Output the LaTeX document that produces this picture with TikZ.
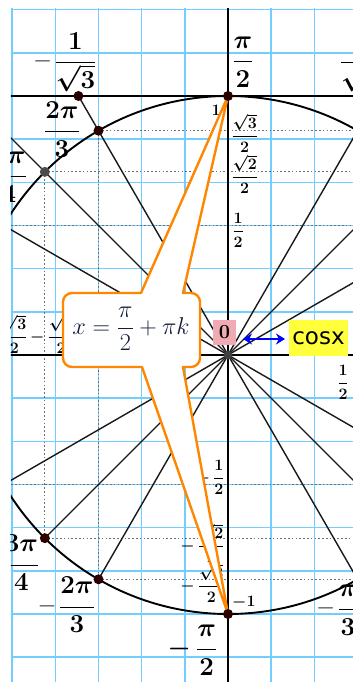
\documentclass[tikz,border=0pt]{standalone}
\usepackage{fontspec}
\newfontfamily\dejavu{DejaVu Sans}
\usetikzlibrary{arrows.meta}
\definecolor{gridblue}{RGB}{115,205,255}
\definecolor{dotred}{RGB}{45,0,0}
\definecolor{callorange}{RGB}{255,135,0}
\definecolor{pinkbg}{RGB}{240,170,180}
\definecolor{yellowbg}{RGB}{255,255,60}
\definecolor{navytext}{RGB}{20,28,60}
\definecolor{dotgray}{RGB}{110,110,110}
\newcommand\fr[2]{{\displaystyle\frac{#1}{#2}}}
\tikzset{
  gridline/.style={gridblue, line width=1.5pt},
  dottedline/.style={dotgray, line width=1.2pt, dash pattern=on 1.6pt off 2.2pt},
  axisline/.style={black, line width=1.5pt},
  fanline/.style={black!90, line width=1.4pt},
  circleline/.style={black, line width=1.9pt},
  ptdot/.style={circle, fill=dotred, inner sep=0pt, minimum size=10pt},
  graydot/.style={circle, fill=black!70, inner sep=0pt, minimum size=10pt},
  biglabel/.style={inner sep=0pt, scale=1.25, font=\fontsize{20.74}{25}\selectfont\bfseries\boldmath},
  smalllabel/.style={inner sep=0pt, scale=1.11, font=\fontsize{14.4}{17}\selectfont\bfseries\boldmath},
  callout/.style={draw=callorange, fill=white, line width=2.4pt, line join=round},
}
\begin{document}
\begin{tikzpicture}[x=1pt,y=1pt]
\useasboundingbox (-228,-327) rectangle (125,355);
\begin{scope}
\clip (-217,-327) rectangle (125,346);
% grid
\foreach \k in {-5,...,2} \draw[gridline] ({\k*43.1667},-330) -- ({\k*43.1667},350);
\foreach \k in {-7,...,8} \draw[gridline] (-220,{\k*43.1667}) -- (130,{\k*43.1667});
% coordinates
\coordinate (O) at (0,0);
\coordinate (A90) at (90:259);
\coordinate (A270) at (270:259);
\coordinate (C120) at (-149.53,259);
\coordinate (C135) at (-259,259);
\coordinate (C150) at (-448.6,259);
\coordinate (C60) at (149.53,259);
\coordinate (C45) at (259,259);
\coordinate (C30) at (448.6,259);
% dotted projections
\foreach \a in {60,45,30} {
  \draw[dottedline] ({-259*cos(\a)},{259*sin(\a)}) -- ({259*cos(\a)},{259*sin(\a)});
  \draw[dottedline] ({-259*cos(\a)},{-259*sin(\a)}) -- ({259*cos(\a)},{-259*sin(\a)});
  \draw[dottedline] ({-259*cos(\a)},{259*sin(\a)}) -- ({-259*cos(\a)},{-259*sin(\a)});
  \draw[dottedline] ({259*cos(\a)},{259*sin(\a)}) -- ({259*cos(\a)},{-259*sin(\a)});
}
% axes and cot line
\draw[axisline] (-230,0) -- (130,0);
\draw[axisline] (0,-330) -- (0,350);
\draw[axisline] (-230,259) -- (130,259);
% fan lines
\draw[fanline] (C120) -- (300:259);
\draw[fanline] (C135) -- (315:259);
\draw[fanline] (C150) -- (330:259);
\draw[fanline] (C60) -- (240:259);
\draw[fanline] (C45) -- (225:259);
\draw[fanline] (C30) -- (210:259);
% circle
\draw[circleline] (O) circle[radius=259pt];
% big labels
\node[biglabel] (lpi2) at (15,293) {$\fr{\pi}{2}$};
\node[biglabel] (lm1s3) at (-162,293) {–\,$\fr{1}{\sqrt{3}}$};
\node[biglabel, anchor=west] (l1s3) at (111,293) {$\fr{1}{\sqrt{3}}$};
\node[biglabel] (l2pi3) at (-166,225) {$\fr{2\pi}{3}$};
\node[biglabel] (l3pi4) at (-219,180) {$\fr{3\pi}{4}$};
\node[biglabel] (lm2pi3) at (-160.5,-250) {–\,$\fr{2\pi}{3}$};
\node[biglabel] (lm3pi4) at (-216,-208) {–\,$\fr{3\pi}{4}$};
\node[biglabel] (lmpi2) at (-35.5,-295) {$-\,\fr{\pi}{2}$};
\node[biglabel, anchor=west] (lmpi3) at (90,-255) {–\,$\fr{\pi}{3}$};
% small labels
\node[smalllabel] (lone) at (-12,245) {1};
\node[smalllabel, anchor=west] (ls32) at (3,222) {$\fr{\sqrt{3}}{2}$};
\node[smalllabel, anchor=west] (ls22) at (3,181) {$\fr{\sqrt{2}}{2}$};
\node[smalllabel, anchor=west] (lh) at (4,125) {$\fr{1}{2}$};
\node[smalllabel, anchor=east] (lmh) at (-3,-122) {$-\,\fr{1}{2}$};
\node[smalllabel, anchor=east] (lms22) at (-3,-188) {$-\,\fr{\sqrt{2}}{2}$};
\node[smalllabel, anchor=east] (lms32) at (-3,-228) {$-\,\fr{\sqrt{3}}{2}$};
\node[smalllabel, anchor=west] (lmone) at (4,-247) {$-1$};
\node[smalllabel] (lhx) at (115,-27) {$\fr{1}{2}$};
\node[smalllabel, anchor=south east] (lxs32) at (-200,1) {$-\,\fr{\sqrt{3}}{2}$};
\node[smalllabel, anchor=south west] (lxs22) at (-198,1) {$-\,\fr{\sqrt{2}}{2}$};
% callout
\draw[callout] (-87,62) -- (A90) -- (-45,62) -- (-37,62)
  arc[start angle=90, end angle=0, radius=9pt] -- (-28,-3)
  arc[start angle=0, end angle=-90, radius=9pt] -- (-45,-12) -- (A270) -- (-86,-12) -- (-156,-12)
  arc[start angle=-90, end angle=-180, radius=9pt] -- (-165,53)
  arc[start angle=180, end angle=90, radius=9pt] -- cycle;
\node[text=navytext, scale=1.17, font=\fontsize{20.74}{25}\selectfont, inner sep=0pt] (formula) at (-97,26) {$x=\fr{\pi}{2}+\pi k$};
% dots
\node[ptdot] (d90) at (A90) {};
\node[ptdot] (d270) at (A270) {};
\node[ptdot] (dc120) at (C120) {};
\node[ptdot] (d120) at (120:259) {};
\node[graydot] (d135) at (135:259) {};
\node[ptdot] (d225) at (225:259) {};
\node[ptdot] (d240) at (240:259) {};
\node[circle, fill=black!75, inner sep=0pt, minimum size=9pt] (dO) at (O) {};
% zero and cosx
\node[fill=pinkbg, minimum width=23pt, minimum height=25pt, inner sep=0pt, font=\fontsize{20}{22}\selectfont\bfseries] (zero) at (-3.5,22.5) {0};
\node[fill=yellowbg, minimum width=59pt, minimum height=36pt, inner sep=0pt, font=\dejavu\fontsize{23}{26}\selectfont] (cosx) at (90.5,17) {cosx};
\coordinate (ar1) at (15,16);
\coordinate (ar2) at (57,16);
\draw[blue, line width=2.8pt, {Stealth[length=9pt,width=11pt]}-{Stealth[length=9pt,width=11pt]}] (ar1) -- (ar2);
\end{scope}
\end{tikzpicture}
\end{document}
